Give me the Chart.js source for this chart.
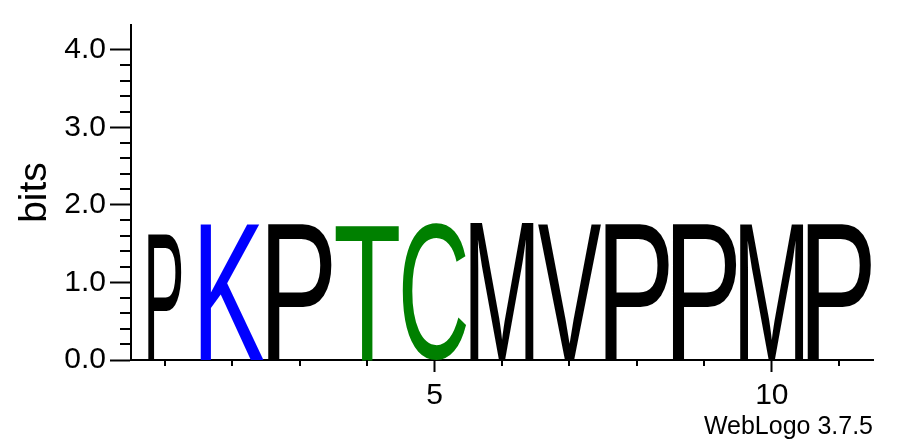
<!DOCTYPE html>
<html>
<head>
<meta charset="utf-8">
<script src="https://cdn.jsdelivr.net/npm/chart.js@4.4.0/dist/chart.umd.min.js"></script>
<style>
  html, body { margin: 0; padding: 0; background: #fff; }
  #wrap { width: 897px; height: 444px; }
</style>
</head>
<body>
<div id="wrap"><canvas id="logo"></canvas></div>
<script>
// sequence logo data, one stack per position
const positions = [1, 2, 3, 4, 5, 6, 7, 8, 9, 10, 11];
const residues = ['P', 'K', 'P', 'T', 'C', 'M', 'V', 'P', 'P', 'M', 'P'];
const bits = [1.63, 1.76, 1.76, 1.76, 1.77, 1.77, 1.76, 1.76, 1.76, 1.76, 1.76];
// fraction of non-gap symbols in the column (stack width scaling)
const occupancy = [0.52, 1, 1, 1, 1, 1, 1, 1, 1, 1, 1];
const yMajorTicks = [0, 1, 2, 3, 4];
const xLabelTicks = [5, 10];

const letterColors = { K: '#0000ff', T: '#008000', C: '#008000' };
const FONT = '"Liberation Sans", Arial, Helvetica, sans-serif';

const round1 = v => Math.round(v * 10) / 10;

// draws each residue stretched into its stack, plus the short minor ticks
const logoPlugin = {
  id: 'logoLetters',
  afterDatasetsDraw(chart) {
    const ctx = chart.ctx;
    const meta = chart.getDatasetMeta(0);
    meta.data.forEach((bar, i) => {
      const p = bar.getProps(['x', 'y', 'base', 'width'], true);
      const ch = residues[i];
      const w = p.width * occupancy[i];
      const left = p.x - w / 2;
      const top = p.y;
      const h = p.base - p.y;
      ctx.save();
      ctx.font = '200px ' + FONT;
      ctx.textAlign = 'left';
      ctx.textBaseline = 'alphabetic';
      const m = ctx.measureText(ch);
      const gw = m.actualBoundingBoxLeft + m.actualBoundingBoxRight;
      const gh = m.actualBoundingBoxAscent + m.actualBoundingBoxDescent;
      ctx.translate(left, top);
      ctx.scale(w / gw, h / gh);
      ctx.fillStyle = letterColors[ch] || '#000';
      ctx.fillText(ch, m.actualBoundingBoxLeft, m.actualBoundingBoxAscent);
      ctx.restore();
    });
  },
  afterDraw(chart) {
    const ctx = chart.ctx;
    const ys = chart.scales.y;
    const xs = chart.scales.x;
    const area = chart.chartArea;
    ctx.save();
    ctx.strokeStyle = '#000';
    ctx.lineWidth = 2;
    ctx.beginPath();
    ys.ticks.forEach(t => {
      if (yMajorTicks.includes(round1(t.value))) return;
      const py = Math.round(ys.getPixelForValue(t.value));
      ctx.moveTo(area.left - 11, py);
      ctx.lineTo(area.left, py);
    });
    xs.ticks.forEach(t => {
      if (xLabelTicks.includes(t.value)) return;
      const px = Math.round(xs.getPixelForValue(t.value));
      ctx.moveTo(px, area.bottom);
      ctx.lineTo(px, area.bottom + 6);
    });
    ctx.stroke();
    ctx.restore();
  }
};

new Chart(document.getElementById('logo'), {
  type: 'bar',
  data: {
    datasets: [{
      label: 'bits',
      data: positions.map((x, i) => ({ x: x, y: bits[i] })),
      backgroundColor: 'rgba(0,0,0,0)',
      borderWidth: 0,
      categoryPercentage: 1,
      barPercentage: 0.94
    }]
  },
  options: {
    responsive: true,
    maintainAspectRatio: false,
    animation: false,
    layout: { padding: { top: 25, right: 24, left: 0, bottom: 0 } },
    plugins: {
      legend: { display: false },
      tooltip: { enabled: true },
      title: {
        display: true,
        text: 'WebLogo 3.7.5',
        position: 'bottom',
        align: 'end',
        color: '#000',
        font: { family: FONT, size: 25, weight: 'normal' },
        padding: { top: 2, bottom: 2 }
      }
    },
    scales: {
      x: {
        type: 'linear',
        min: 0.5,
        max: 11.5,
        offset: false,
        afterBuildTicks: s => { s.ticks = positions.map(v => ({ value: v })); },
        afterFit: s => { s.height = 50; },
        ticks: {
          autoSkip: false,
          maxRotation: 0,
          padding: 6,
          color: '#000',
          font: { family: FONT, size: 30 },
          callback: v => xLabelTicks.includes(v) ? String(v) : ''
        },
        grid: {
          offset: false,
          drawOnChartArea: false,
          tickLength: 12,
          tickWidth: 2,
          tickColor: c => (c.tick && xLabelTicks.includes(c.tick.value)) ? '#000' : 'rgba(0,0,0,0)'
        },
        border: { display: true, color: '#000', width: 2 }
      },
      y: {
        min: 0,
        max: 4.32,
        afterBuildTicks: s => { s.ticks = s.ticks.filter(t => Math.abs(t.value * 5 - Math.round(t.value * 5)) < 1e-6); },
        afterFit: s => { s.width = 131; },
        ticks: {
          stepSize: 0.2,
          autoSkip: false,
          padding: 4,
          color: '#000',
          font: { family: FONT, size: 30 },
          callback: v => yMajorTicks.includes(round1(v)) ? round1(v).toFixed(1) : ''
        },
        grid: {
          drawOnChartArea: false,
          tickLength: 21,
          tickWidth: 2,
          tickColor: c => (c.tick && yMajorTicks.includes(round1(c.tick.value))) ? '#000' : 'rgba(0,0,0,0)'
        },
        border: { display: true, color: '#000', width: 2 },
        title: {
          display: true,
          text: 'bits',
          color: '#000',
          font: { family: FONT, size: 39, weight: 'normal' },
          padding: { top: 12, bottom: 0 }
        }
      }
    }
  },
  plugins: [logoPlugin]
});
</script>
</body>
</html>
